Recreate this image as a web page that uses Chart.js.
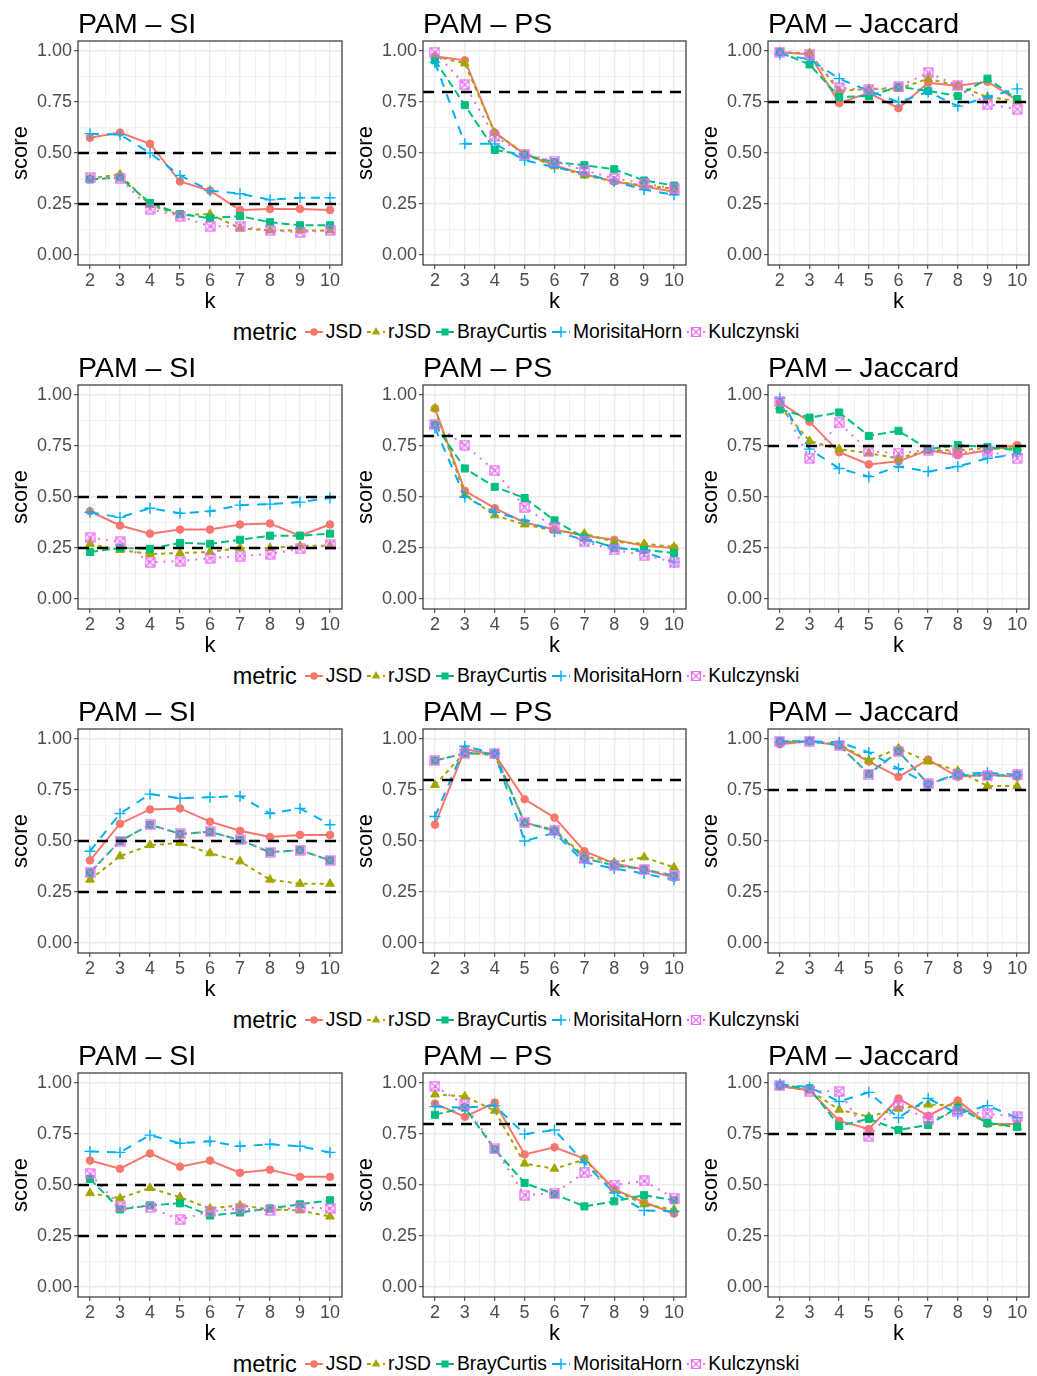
<!DOCTYPE html>
<html>
<head>
<meta charset="utf-8">
<script src="https://cdn.jsdelivr.net/npm/chart.js@4.4.1/dist/chart.umd.min.js"></script>
<style>
body{margin:0;background:#fff;font-family:"Liberation Sans",Arial,sans-serif;}
#fig{position:relative;width:1037px;height:1376px;background:#fff;overflow:hidden;}
.panel{position:absolute;width:345px;height:315px;}
.ttl{position:absolute;font-size:28.5px;line-height:30px;color:#000;white-space:nowrap;}
.leg{position:absolute;left:0;width:1037px;height:26px;display:flex;justify-content:center;align-items:center;font-size:19.3px;color:#000;}
.leg .lt{font-size:23.5px;margin-right:8px;}
.leg svg{margin:0 3px 0 0;}
.leg .lab{margin-right:5px;}
</style>
</head>
<body>
<div id="fig"></div>
<script>
const FONT = '"Liberation Sans", Arial, sans-serif';

// k values and the series names
const K = [2, 3, 4, 5, 6, 7, 8, 9, 10];
const METRICS = ['JSD', 'rJSD', 'BrayCurtis', 'MorisitaHorn', 'Kulczynski'];
const COLORS = ['#F8766D', '#A3A500', '#00BF7D', '#00B0F6', '#E76BF3'];
const DASHES = [[], [4, 4], [8, 4], [9, 8], [2, 6]];
const PANEL_TITLES = ['PAM – SI', 'PAM – PS', 'PAM – Jaccard'];
const THRESHOLDS = [[0.25, 0.5], [0.8], [0.75]];
const X_MIN = 1.6, X_MAX = 10.4;
const X_TICKS = [2, 2.5, 3, 3.5, 4, 4.5, 5, 5.5, 6, 6.5, 7, 7.5, 8, 8.5, 9, 9.5, 10];
const Y_TICKS = [0, 0.125, 0.25, 0.375, 0.5, 0.625, 0.75, 0.875, 1];

// scores, one line per metric in the order of METRICS
const si1 = [
  [.575, .60, .545, .36, .315, .22, .225, .225, .22],
  [.375, .395, .245, .195, .20, .13, .12, .12, .12],
  [.37, .38, .255, .20, .18, .19, .16, .145, .145],
  [.595, .59, .50, .39, .315, .30, .27, .28, .28],
  [.38, .375, .225, .19, .14, .14, .12, .11, .12]
];
const ps1 = [
  [.975, .955, .60, .495, .44, .395, .36, .335, .31],
  [.975, .94, .60, .495, .435, .39, .36, .34, .325],
  [.955, .735, .515, .49, .455, .44, .42, .365, .34],
  [.945, .545, .545, .465, .43, .40, .36, .32, .295],
  [.995, .835, .58, .495, .46, .415, .375, .35, .325]
];
const jac1 = [
  [.995, .985, .745, .795, .72, .845, .83, .85, .76],
  [.995, .99, .805, .815, .815, .865, .83, .775, .755],
  [.995, .935, .775, .78, .825, .805, .78, .865, .765],
  [.985, .96, .865, .805, .75, .80, .73, .775, .815],
  [.995, .985, .82, .81, .825, .895, .83, .74, .715]
];
const si2 = [
  [.43, .36, .32, .34, .34, .365, .37, .31, .365],
  [.27, .24, .22, .225, .23, .25, .25, .26, .26],
  [.23, .25, .245, .275, .27, .29, .31, .31, .32],
  [.425, .40, .445, .42, .43, .46, .465, .475, .495],
  [.30, .28, .18, .185, .20, .21, .22, .245, .265]
];
const ps2 = [
  [.935, .53, .445, .375, .34, .31, .29, .26, .25],
  [.935, .51, .41, .365, .335, .32, .28, .27, .255],
  [.855, .64, .55, .495, .385, .30, .25, .24, .225],
  [.84, .50, .425, .385, .33, .29, .255, .23, .18],
  [.855, .755, .63, .45, .35, .28, .24, .215, .18]
];
const jac2 = [
  [.965, .87, .72, .66, .675, .73, .705, .73, .755],
  [.945, .775, .735, .715, .69, .73, .73, .74, .74],
  [.93, .89, .915, .80, .825, .735, .755, .745, .73],
  [.985, .735, .64, .60, .65, .625, .65, .69, .71],
  [.97, .69, .865, .725, .715, .73, .72, .725, .69]
];
const si3 = [
  [.405, .585, .655, .66, .595, .55, .52, .53, .53],
  [.31, .425, .48, .49, .44, .40, .31, .29, .29],
  [.345, .50, .58, .535, .545, .505, .445, .455, .405],
  [.45, .635, .73, .71, .715, .72, .635, .66, .58],
  [.345, .50, .58, .535, .545, .505, .445, .455, .405]
];
const ps3 = [
  [.58, .95, .925, .705, .615, .45, .39, .36, .32],
  [.775, .935, .92, .59, .555, .425, .395, .42, .37],
  [.895, .93, .93, .59, .55, .415, .38, .36, .33],
  [.62, .965, .93, .50, .54, .395, .365, .34, .31],
  [.895, .93, .93, .59, .55, .415, .38, .36, .33]
];
const jac3 = [
  [.975, .99, .97, .89, .815, .90, .815, .825, .815],
  [.985, .99, .975, .895, .955, .89, .845, .77, .77],
  [.99, .99, .97, .83, .94, .78, .825, .82, .825],
  [.985, .99, .985, .935, .855, .78, .83, .835, .825],
  [.99, .99, .97, .825, .94, .78, .825, .82, .825]
];
const si4 = [
  [.62, .58, .655, .59, .62, .56, .575, .54, .54],
  [.46, .435, .485, .44, .385, .40, .38, .375, .345],
  [.53, .38, .40, .41, .35, .365, .385, .405, .425],
  [.665, .66, .745, .705, .715, .69, .70, .69, .66],
  [.555, .395, .39, .33, .37, .385, .375, .39, .385]
];
const ps4 = [
  [.90, .835, .905, .65, .685, .63, .48, .415, .36],
  [.945, .935, .865, .605, .58, .625, .475, .405, .38],
  [.845, .88, .675, .51, .455, .395, .42, .45, .425],
  [.885, .88, .89, .75, .77, .61, .46, .375, .37],
  [.985, .895, .68, .45, .46, .56, .50, .52, .435]
];
const jac4 = [
  [.985, .965, .815, .775, .925, .84, .915, .80, .80],
  [.985, .965, .87, .835, .875, .895, .89, .80, .785],
  [.99, .975, .79, .825, .77, .795, .88, .805, .785],
  [.995, .98, .91, .955, .83, .925, .85, .89, .83],
  [.99, .96, .96, .74, .895, .82, .86, .85, .835]
];
const ROWS = [[si1, ps1, jac1], [si2, ps2, jac2], [si3, ps3, jac3], [si4, ps4, jac4]];

// square with an X inside (ggplot shape 7)
function boxX(color) {
  const c = document.createElement('canvas');
  c.width = 11; c.height = 11;
  const g = c.getContext('2d');
  g.strokeStyle = color; g.lineWidth = 1.2;
  g.strokeRect(1, 1, 9, 9);
  g.beginPath();
  g.moveTo(1, 1); g.lineTo(10, 10);
  g.moveTo(10, 1); g.lineTo(1, 10);
  g.stroke();
  return c;
}
const STYLES = ['circle', 'triangle', 'rect', 'cross', boxX(COLORS[4])];
const RADII = [3.8, 5, 5, 5.5, 5];
const RIGHT_PAD = [3, 4, 6];

const isMajorY = v => Math.abs(v * 4 - Math.round(v * 4)) < 1e-6;
const isMajorX = v => Number.isInteger(v);

// panel border on top of everything
const frame = {
  id: 'frame',
  afterDraw(chart) {
    const {ctx, chartArea: a} = chart;
    ctx.save();
    ctx.strokeStyle = '#333';
    ctx.lineWidth = 1.2;
    ctx.strokeRect(a.left, a.top, a.right - a.left, a.bottom - a.top);
    ctx.restore();
  }
};

const fig = document.getElementById('fig');

function makePanel(row, col) {
  const vals = ROWS[row][col];
  const box = document.createElement('div');
  box.className = 'panel';
  box.style.left = (col * 345) + 'px';
  box.style.top = (row * 344) + 'px';
  const cv = document.createElement('canvas');
  cv.width = 345; cv.height = 315;
  box.appendChild(cv);
  fig.appendChild(box);

  const ttl = document.createElement('div');
  ttl.className = 'ttl';
  ttl.textContent = PANEL_TITLES[col];
  ttl.style.left = (col * 345 + 78) + 'px';
  ttl.style.top = (row * 344 + 8) + 'px';
  fig.appendChild(ttl);

  const sets = METRICS.map((m, i) => ({
    label: m,
    data: K.map((k, j) => ({x: k, y: vals[i][j]})),
    borderColor: COLORS[i],
    backgroundColor: COLORS[i],
    borderWidth: 2,
    borderDash: DASHES[i],
    pointStyle: STYLES[i],
    pointRadius: RADII[i],
    pointBorderWidth: i === 3 ? 1.4 : 1,
    pointBackgroundColor: COLORS[i],
    pointBorderColor: COLORS[i],
    tension: 0,
    order: 5 - i
  }));
  THRESHOLDS[col].forEach(t => {
    sets.push({
      label: 'cut',
      data: [{x: X_MIN, y: t}, {x: X_MAX, y: t}],
      borderColor: '#000',
      borderWidth: 2.5,
      borderDash: [11, 8],
      pointRadius: 0,
      order: -1
    });
  });

  new Chart(cv, {
    type: 'line',
    data: {datasets: sets},
    plugins: [frame],
    options: {
      responsive: false,
      animation: false,
      events: [],
      layout: {autoPadding: false, padding: {top: 41, right: RIGHT_PAD[col], left: 0, bottom: 0}},
      plugins: {legend: {display: false}, tooltip: {enabled: false}},
      scales: {
        x: {
          type: 'linear', min: X_MIN, max: X_MAX,
          afterBuildTicks: s => { s.ticks = X_TICKS.map(v => ({value: v})); },
          afterFit: s => { s.height = 50; s.paddingLeft = 0; s.paddingRight = 0; },
          border: {display: false},
          grid: {
            color: '#EBEBEB',
            lineWidth: c => (c.tick && isMajorX(c.tick.value)) ? 1.4 : 0.7,
            tickColor: c => (c.tick && isMajorX(c.tick.value)) ? '#333' : 'rgba(0,0,0,0)',
            tickWidth: 1,
            tickLength: 4
          },
          ticks: {
            autoSkip: false, maxRotation: 0, padding: 1,
            color: '#4D4D4D', font: {size: 18, family: FONT},
            callback: v => isMajorX(v) ? String(v) : ''
          },
          title: {display: true, text: 'k', color: '#000', font: {size: 22, family: FONT}, padding: {top: 0, bottom: 0}}
        },
        y: {
          min: -0.05, max: 1.05,
          afterBuildTicks: s => { s.ticks = Y_TICKS.map(v => ({value: v})); },
          afterFit: s => { s.width = 78; s.paddingTop = 0; s.paddingBottom = 0; },
          border: {display: false},
          grid: {
            color: '#EBEBEB',
            lineWidth: c => (c.tick && isMajorY(c.tick.value)) ? 1.4 : 0.7,
            tickColor: c => (c.tick && isMajorY(c.tick.value)) ? '#333' : 'rgba(0,0,0,0)',
            tickWidth: 1,
            tickLength: 4
          },
          ticks: {
            autoSkip: false, padding: 2,
            color: '#4D4D4D', font: {size: 18, family: FONT},
            callback: v => isMajorY(v) ? v.toFixed(2) : ''
          },
          title: {display: true, text: 'score', color: '#000', font: {size: 22, family: FONT}, padding: {top: 8, bottom: 0}}
        }
      }
    }
  });
}

// small legend key like ggplot: dashed segment with the marker on it
function keySvg(i) {
  const c = COLORS[i];
  const dash = DASHES[i].length ? ` stroke-dasharray="${DASHES[i].join(',')}"` : '';
  let mark = '';
  if (i === 0) mark = `<circle cx="9" cy="10" r="3.8" fill="${c}"/>`;
  if (i === 1) mark = `<polygon points="9,5 13.3,12.5 4.7,12.5" fill="${c}"/>`;
  if (i === 2) mark = `<rect x="5.5" y="6.5" width="7" height="7" fill="${c}"/>`;
  if (i === 3) mark = `<path d="M3.5 10H14.5M9 4.5V15.5" stroke="${c}" stroke-width="1.4"/>`;
  if (i === 4) mark = `<path d="M4.5 5.5H13.5V14.5H4.5Z M4.5 5.5L13.5 14.5 M13.5 5.5L4.5 14.5" fill="none" stroke="${c}" stroke-width="1.2"/>`;
  return `<svg width="18" height="20" viewBox="0 0 18 20"><line x1="0" y1="10" x2="18" y2="10" stroke="${c}" stroke-width="2"${dash}/>${mark}</svg>`;
}

function makeLegend(row) {
  const leg = document.createElement('div');
  leg.className = 'leg';
  leg.style.top = (row * 344 + 319) + 'px';
  let html = '<span class="lt">metric</span>';
  METRICS.forEach((m, i) => { html += keySvg(i) + `<span class="lab">${m}</span>`; });
  leg.innerHTML = html;
  fig.appendChild(leg);
}

for (let r = 0; r < ROWS.length; r++) {
  for (let c = 0; c < 3; c++) makePanel(r, c);
  makeLegend(r);
}
</script>
</body>
</html>
